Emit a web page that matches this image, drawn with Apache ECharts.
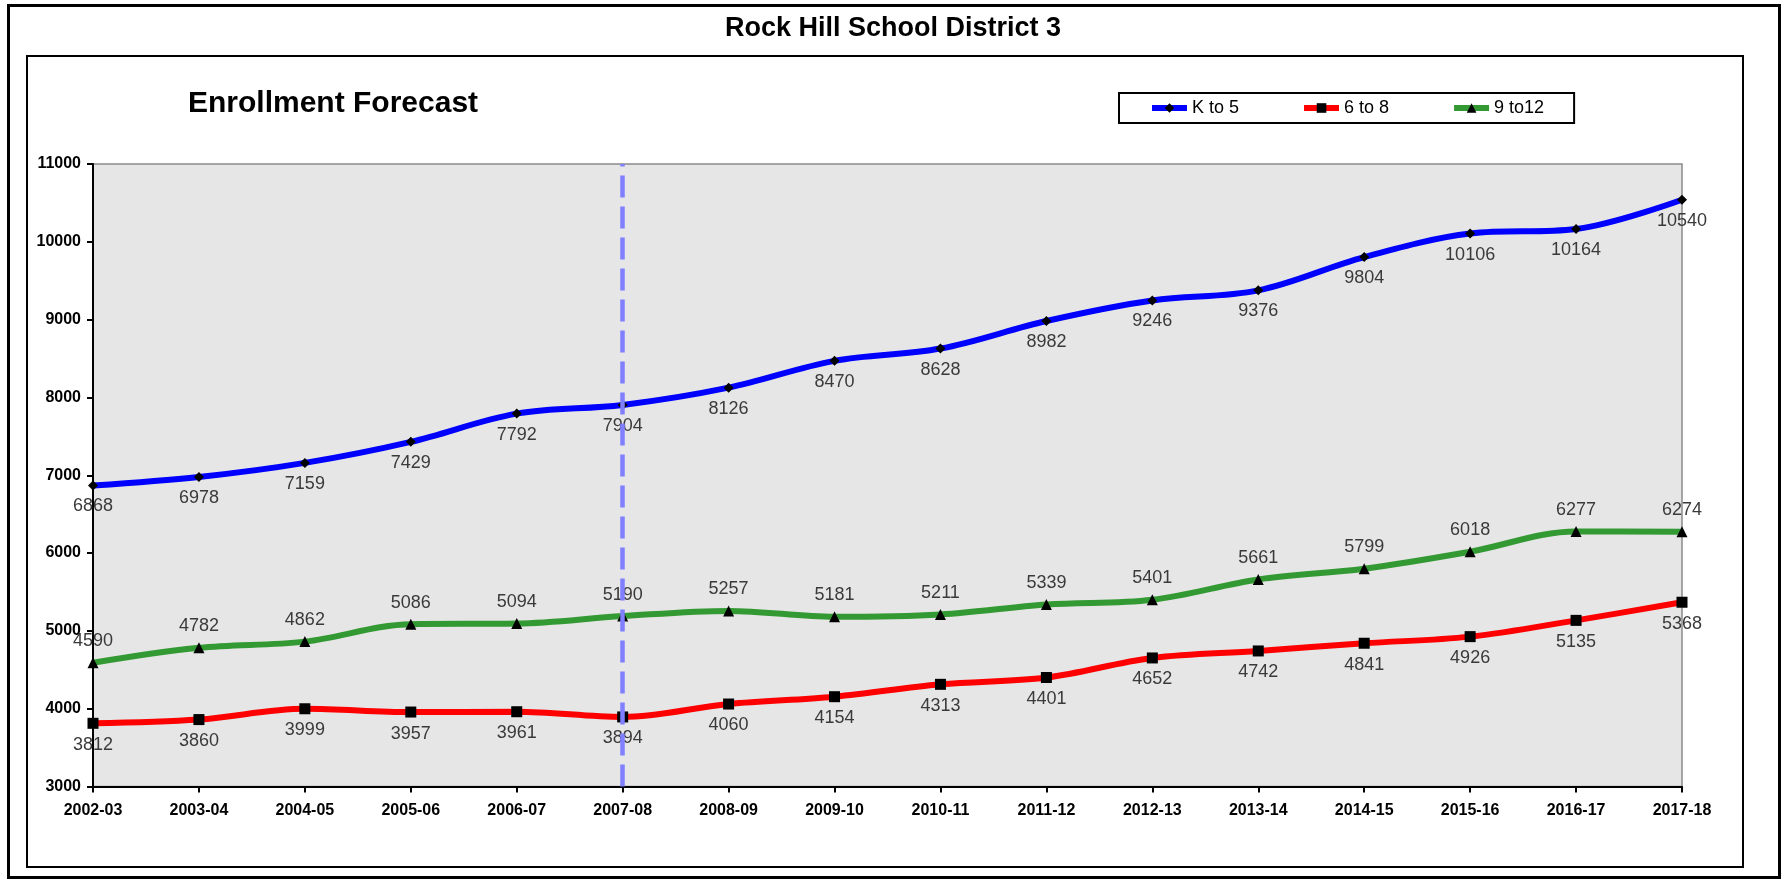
<!DOCTYPE html>
<html>
<head>
<meta charset="utf-8">
<script src="https://cdn.jsdelivr.net/npm/echarts@6/dist/echarts.min.js"></script>
<style>
html,body{margin:0;padding:0;background:#fff;}
#chart{width:1786px;height:880px;}
</style>
</head>
<body>
<div id="chart"></div>
<script>
const categories = ['2002-03','2003-04','2004-05','2005-06','2006-07','2007-08','2008-09','2009-10','2010-11','2011-12','2012-13','2013-14','2014-15','2015-16','2016-17','2017-18'];
const kTo5 = [6868,6978,7159,7429,7792,7904,8126,8470,8628,8982,9246,9376,9804,10106,10164,10540];
const sixTo8 = [3812,3860,3999,3957,3961,3894,4060,4154,4313,4401,4652,4742,4841,4926,5135,5368];
const nineTo12 = [4590,4782,4862,5086,5094,5190,5257,5181,5211,5339,5401,5661,5799,6018,6277,6274];
const seriesNames = ['K to 5','6 to 8','9 to12'];
const markerCategory = '2007-08';

const FONT = 'Liberation Sans, Arial, sans-serif';
const chart = echarts.init(document.getElementById('chart'), null, {renderer:'canvas'});

function lineSeries(name, data, color, symbol, symbolSize, labelPos) {
  return {
    name: name,
    type: 'line',
    data: data,
    smooth: 0.35,
    symbol: symbol,
    symbolSize: symbolSize,
    showAllSymbol: true,
    lineStyle: {color: color, width: 6},
    itemStyle: {color: '#000', borderWidth: 0},
    label: {
      show: true,
      position: labelPos,
      distance: 7,
      color: '#3a3a3a',
      fontFamily: FONT,
      fontSize: 18
    },
    emphasis: {disabled: true}
  };
}

const sK = lineSeries(seriesNames[0], kTo5, '#0000ff', 'diamond', 10, 'bottom');
const s6 = lineSeries(seriesNames[1], sixTo8, '#ff0000', 'rect', 11, 'bottom');
const s9 = lineSeries(seriesNames[2], nineTo12, '#339933', 'triangle', 11, 'top');
s9.markLine = {
  silent: true,
  symbol: ['none','none'],
  label: {show: false},
  lineStyle: {color: '#7f7fff', width: 4.5, type: [22, 9]},
  data: [{xAxis: markerCategory}],
  z: 10
};

const option = {
  backgroundColor: '#ffffff',
  animation: false,
  title: [
    {
      text: 'Rock Hill School District 3',
      left: 'center',
      top: 10,
      textStyle: {fontFamily: FONT, fontSize: 27, fontWeight: 'bold', color: '#000'}
    },
    {
      text: 'Enrollment Forecast',
      left: 183,
      top: 84,
      textStyle: {fontFamily: FONT, fontSize: 30, fontWeight: 'bold', color: '#000'}
    }
  ],
  legend: {
    left: 1119,
    top: 93,
    data: seriesNames,
    orient: 'horizontal',
    padding: [6, 30, 6, 30],
    itemGap: 62,
    itemWidth: 35,
    itemHeight: 12,
    lineStyle: {width: 6},
    borderColor: '#000',
    borderWidth: 2,
    backgroundColor: '#fff',
    textStyle: {fontFamily: FONT, fontSize: 18, color: '#000'}
  },
  grid: {
    left: 93,
    right: 104,
    top: 164,
    bottom: 93.5,
    show: true,
    backgroundColor: '#e6e6e6',
    borderColor: '#8a8a8a',
    borderWidth: 1.5
  },
  xAxis: {
    type: 'category',
    data: categories,
    boundaryGap: false,
    axisLine: {show: true, lineStyle: {color: '#000', width: 2}},
    axisTick: {show: true, inside: false, length: 6, alignWithLabel: true, lineStyle: {color: '#000', width: 2}, interval: 0},
    axisLabel: {interval: 0, margin: 16, fontFamily: FONT, fontSize: 16, fontWeight: 'bold', color: '#000'},
    splitLine: {show: false}
  },
  yAxis: {
    type: 'value',
    min: 3000,
    max: 11000,
    interval: 1000,
    axisLine: {show: true, lineStyle: {color: '#000', width: 2}},
    axisTick: {show: true, inside: false, length: 6, lineStyle: {color: '#000', width: 2}},
    axisLabel: {margin: 12, fontFamily: FONT, fontSize: 16, fontWeight: 'bold', color: '#000', formatter: function (v) { return String(v); }},
    splitLine: {show: false}
  },
  graphic: [
    {type: 'rect', z: 100, silent: true, shape: {x: 8.5, y: 5.5, width: 1771, height: 872}, style: {fill: 'none', stroke: '#000', lineWidth: 3}},
    {type: 'rect', z: 100, silent: true, shape: {x: 27, y: 56, width: 1716, height: 811}, style: {fill: 'none', stroke: '#000', lineWidth: 2}}
  ],
  series: [sK, s6, s9]
};
chart.setOption(option);
</script>
</body>
</html>
